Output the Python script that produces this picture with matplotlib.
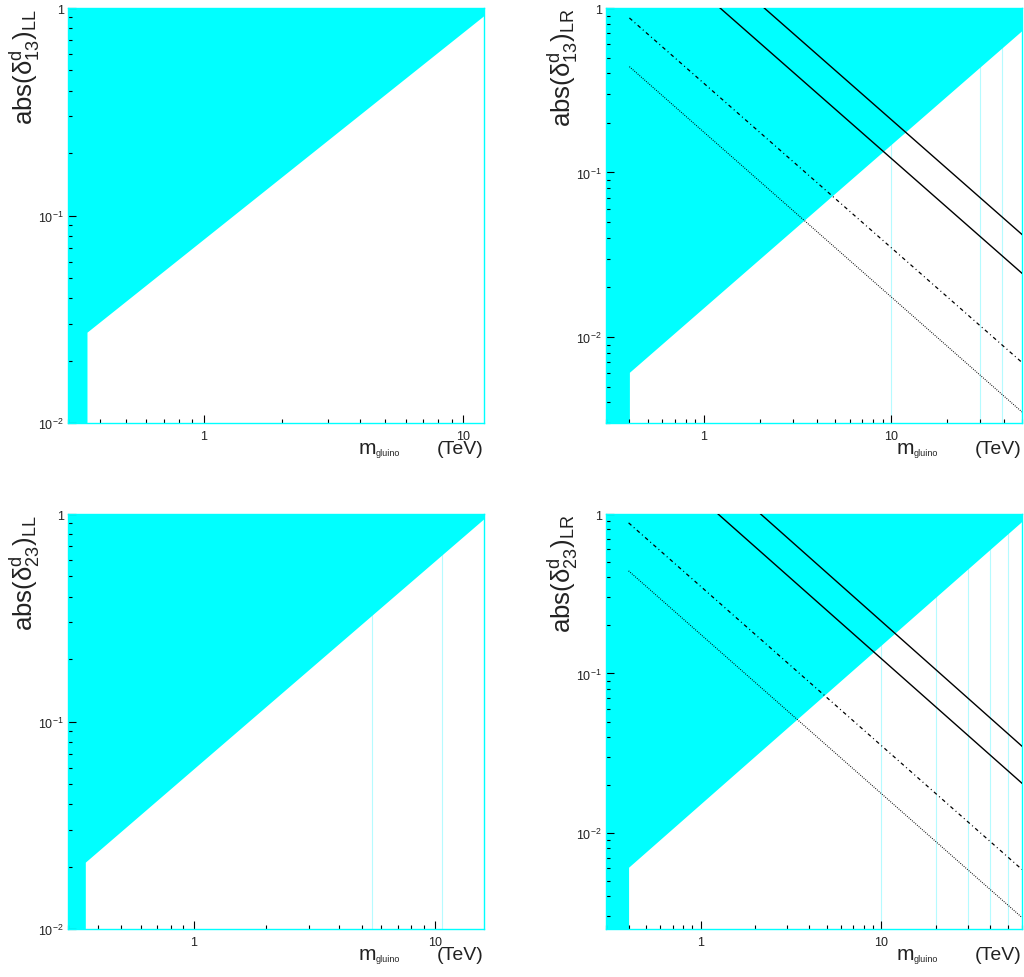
#!/usr/bin/env python3
"""
gluino mass vs |delta^d| exclusion plots (4 panels)
"""
import numpy as np
import matplotlib
matplotlib.use('Agg')
import matplotlib.pyplot as plt
from matplotlib.ticker import LogLocator, FuncFormatter, NullFormatter

plt.rcParams['font.family'] = ['Liberation Sans', 'DejaVu Sans']
plt.rcParams['mathtext.fontset'] = 'custom'
plt.rcParams['mathtext.rm'] = 'Liberation Sans'
plt.rcParams['mathtext.it'] = 'Liberation Sans:italic'
plt.rcParams['mathtext.bf'] = 'Liberation Sans:bold'

CYAN = '#00ffff'
FAINT = '#b5fbff'
TXT = '#222222'

# --- axis ranges ---
tl_xlim = (0.3, 12.0)
tl_ylim = (0.01, 1.0)
tr_xlim = (0.3, 50.0)
tr_ylim = (0.003, 1.0)
bl_xlim = (0.3, 16.0)
bl_ylim = (0.01, 1.0)
br_xlim = (0.3, 60.0)
br_ylim = (0.0025, 1.0)

# --- excluded (cyan) region: lower edge vs m_gluino, filled up to 1 ---
tl_m = [0.3, 0.355, 0.355, 12.0]
tl_lo = [0.01, 0.01, 0.0274, 0.92]
tr_m = [0.3, 0.4, 0.4, 50.0]
tr_lo = [0.003, 0.003, 0.0061, 0.73]
bl_m = [0.3, 0.354, 0.354, 16.0]
bl_lo = [0.01, 0.01, 0.021, 0.95]
br_m = [0.3, 0.4, 0.4, 60.0]
br_lo = [0.0025, 0.0025, 0.0061, 0.90]

# faint leftover bin edges of the filled region
tl_edges = []
tr_edges = [10.0, 30.0, 39.0]
bl_edges = [5.5, 10.7]
br_edges = [10.0, 20.0, 30.0, 40.0, 50.0]

# --- LR bound curves (right panels) ---
tr_solid1_m, tr_solid1_y = [1.22, 50.0], [1.0, 0.0244]
tr_solid2_m, tr_solid2_y = [2.1, 50.0], [1.0, 0.042]
tr_dashdot_m, tr_dashdot_y = [0.4, 50.0], [0.87, 0.0070]
tr_dotted_m, tr_dotted_y = [0.4, 50.0], [0.44, 0.0035]

br_solid1_m, br_solid1_y = [1.25, 60.0], [1.0, 0.0205]
br_solid2_m, br_solid2_y = [2.15, 60.0], [1.0, 0.035]
br_dashdot_m, br_dashdot_y = [0.4, 60.0], [0.88, 0.0059]
br_dotted_m, br_dotted_y = [0.4, 60.0], [0.44, 0.00295]

ylabels = {
    'tl': r'abs(δ$^{\mathrm{d}}_{\mathrm{13}}$)$_{\mathrm{LL}}$',
    'tr': r'abs(δ$^{\mathrm{d}}_{\mathrm{13}}$)$_{\mathrm{LR}}$',
    'bl': r'abs(δ$^{\mathrm{d}}_{\mathrm{23}}$)$_{\mathrm{LL}}$',
    'br': r'abs(δ$^{\mathrm{d}}_{\mathrm{23}}$)$_{\mathrm{LR}}$',
}


def log_label(v, pos):
    e = int(round(np.log10(v)))
    if e == 0:
        return '1'
    if e == 1:
        return '10'
    return r'$10^{%d}$' % e


def x_title(ax):
    # ROOT-style "m_gluino (TeV)" at the lower right, offsets in pixels
    kw = dict(xy=(1, 0), xycoords='axes fraction', textcoords='offset pixels',
              color=TXT, annotation_clip=False, va='baseline')
    ax.annotate('(TeV)', xytext=(-1, -30), ha='right', fontsize=14, **kw)
    ax.annotate('m', xytext=(-125, -30), ha='left', fontsize=15, **kw)
    ax.annotate('gluino', xytext=(-108, -32), ha='left', fontsize=6.5, **kw)


def setup(ax, xlim, ylim, m, lo, edges, ylab):
    ax.set_xscale('log')
    ax.set_yscale('log')
    ax.set_xlim(*xlim)
    ax.set_ylim(*ylim)
    # faint bin edges, hidden under the fill above the boundary
    if edges:
        ax.vlines(edges, ylim[0], ylim[1], color=FAINT, lw=0.8, zorder=0.5)
    ax.fill_between(m, lo, ylim[1], color=CYAN, lw=0, zorder=1)

    for axis in (ax.xaxis, ax.yaxis):
        axis.set_major_locator(LogLocator(base=10, numticks=10))
        axis.set_minor_locator(LogLocator(base=10, subs=np.arange(2, 10), numticks=20))
        axis.set_major_formatter(FuncFormatter(log_label))
        axis.set_minor_formatter(NullFormatter())
    ax.tick_params(which='both', direction='in', color='black', width=0.8,
                   top=False, right=False, labelsize=9, labelcolor=TXT)
    ax.tick_params(which='major', length=6)
    ax.tick_params(which='minor', length=3.2)
    ax.tick_params(axis='x', which='major', pad=5)
    ax.tick_params(axis='y', which='major', pad=3)
    for s in ax.spines.values():
        s.set_color(CYAN)
        s.set_linewidth(1.0)

    ax.set_ylabel(ylab, loc='top', fontsize=18.5, color=TXT)
    ax.yaxis.set_label_coords(-0.063, 1.0)
    x_title(ax)


def draw_bounds(ax, s1, s2, dd, dt):
    ax.plot(*s1, color='black', lw=1.0, zorder=3)
    ax.plot(*s2, color='black', lw=1.0, zorder=3)
    ax.plot(*dd, color='black', lw=0.9, dashes=(3, 2.5, 0.8, 2.5), zorder=3)
    ax.plot(*dt, color='black', lw=0.8, dashes=(0.8, 1.2), zorder=3)


fig = plt.figure(figsize=(10.24, 9.78), dpi=100)
W, H = 1024, 978
def box(l, t, r, b):
    return [l / W, (H - b) / H, (r - l) / W, (b - t) / H]

ax_tl = fig.add_axes(box(68, 9, 484, 424))
ax_tr = fig.add_axes(box(606, 9, 1022, 424))
ax_bl = fig.add_axes(box(68, 515, 484, 930))
ax_br = fig.add_axes(box(606, 515, 1022, 930))

setup(ax_tl, tl_xlim, tl_ylim, tl_m, tl_lo, tl_edges, ylabels['tl'])
setup(ax_tr, tr_xlim, tr_ylim, tr_m, tr_lo, tr_edges, ylabels['tr'])
setup(ax_bl, bl_xlim, bl_ylim, bl_m, bl_lo, bl_edges, ylabels['bl'])
setup(ax_br, br_xlim, br_ylim, br_m, br_lo, br_edges, ylabels['br'])

draw_bounds(ax_tr, (tr_solid1_m, tr_solid1_y), (tr_solid2_m, tr_solid2_y),
            (tr_dashdot_m, tr_dashdot_y), (tr_dotted_m, tr_dotted_y))
draw_bounds(ax_br, (br_solid1_m, br_solid1_y), (br_solid2_m, br_solid2_y),
            (br_dashdot_m, br_dashdot_y), (br_dotted_m, br_dotted_y))

fig.savefig('out.png', dpi=100)
plt.close(fig)
